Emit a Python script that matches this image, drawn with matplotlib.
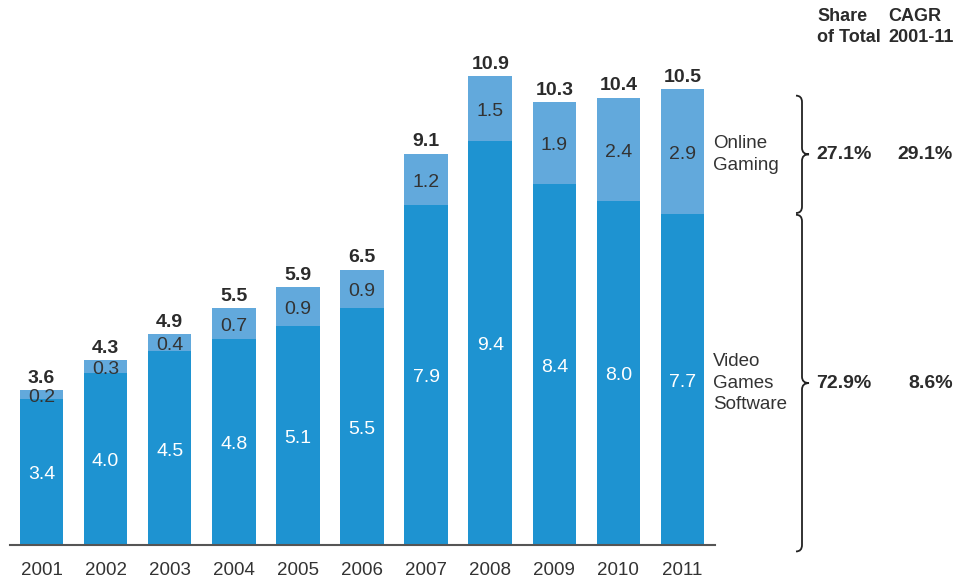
import matplotlib
matplotlib.use("Agg")
import matplotlib.pyplot as plt
import matplotlib.transforms as mtransforms
from matplotlib.path import Path
from matplotlib.patches import PathPatch

plt.rcParams['font.family'] = ['Liberation Sans', 'DejaVu Sans']

years = ["2001", "2002", "2003", "2004", "2005", "2006",
         "2007", "2008", "2009", "2010", "2011"]
software = [3.4, 4.0, 4.5, 4.8, 5.1, 5.5, 7.9, 9.4, 8.4, 8.0, 7.7]
online = [0.2, 0.3, 0.4, 0.7, 0.9, 0.9, 1.2, 1.5, 1.9, 2.4, 2.9]
totals = [3.6, 4.3, 4.9, 5.5, 5.9, 6.5, 9.1, 10.9, 10.3, 10.4, 10.5]

segments = ["Online\nGaming", "Video\nGames\nSoftware"]
share = ["27.1%", "72.9%"]
cagr = ["29.1%", "8.6%"]

dark = '#1e93d1'
light = '#62a9dc'
txt = '#2b2b2b'

fig = plt.figure(figsize=(9.61, 5.80), dpi=100)
ax = fig.add_axes([0, 0, 1, 1])
ax.set_xlim(-0.647, 14.344)
ax.set_ylim(-0.814, 12.674)
ax.axis('off')

# pixel overlay for annotations on the right
ov = fig.add_axes([0, 0, 1, 1], facecolor='none')
ov.set_xlim(0, 961)
ov.set_ylim(580, 0)
ov.axis('off')

x = list(range(len(years)))
w = 0.68
ax.bar(x, software, width=w, color=dark, zorder=2)
ax.bar(x, online, width=w, bottom=software, color=light, zorder=2)

for i in x:
    ax.annotate(f"{software[i]:.1f}", (i, software[i] / 2), xytext=(0, -2),
                textcoords='offset points', ha='center', va='center',
                color='white', fontsize=14, zorder=3)
    ax.annotate(f"{online[i]:.1f}", (i, software[i] + online[i] / 2),
                xytext=(0, -2), textcoords='offset points', ha='center',
                va='center', color='#333333', fontsize=14, zorder=3)
    ax.annotate(f"{totals[i]:.1f}", (i, software[i] + online[i]),
                xytext=(0, 2.5), textcoords='offset points', ha='center',
                va='bottom', fontsize=14, fontweight='bold', color=txt)
    ax.annotate(years[i], (i, 0), xytext=(0, -18.5), textcoords='offset points',
                ha='center', va='center', fontsize=13.5, color='#333333')

# baseline
ov.plot([10, 715], [545, 545], color='#555555', lw=1.5, zorder=4)

# curly braces: x in pixels, y in data units
trans = mtransforms.blended_transform_factory(ov.transData, ax.transData)


def brace(y_top, y_bot):
    x0, xm, xt = 796, 802, 809
    r = 0.15
    ym = (y_top + y_bot) / 2
    verts = [(x0, y_top), (xm, y_top), (xm, y_top - r),
             (xm, ym + r), (xm, ym), (xt, ym),
             (xm, ym), (xm, ym - r),
             (xm, y_bot + r), (xm, y_bot), (x0, y_bot)]
    codes = [Path.MOVETO, Path.CURVE3, Path.CURVE3,
             Path.LINETO, Path.CURVE3, Path.CURVE3,
             Path.CURVE3, Path.CURVE3,
             Path.LINETO, Path.CURVE3, Path.CURVE3]
    ax.add_patch(PathPatch(Path(verts, codes), transform=trans, fill=False,
                           lw=1.3, color='#222222', clip_on=False))
    return ym


last = len(years) - 1
top_mid = brace(totals[last] - 0.05, software[last] + 0.02)
bot_mid = brace(software[last] - 0.02, -0.15)

ax.text(713, top_mid, segments[0], transform=trans, ha='left', va='center',
        fontsize=13.5, color='#333333', linespacing=1.35)
ax.text(713, bot_mid, segments[1], transform=trans, ha='left', va='center',
        fontsize=13.5, color='#333333', linespacing=1.35)

for ym, s, c in [(top_mid, share[0], cagr[0]), (bot_mid, share[1], cagr[1])]:
    ax.text(816, ym, s, transform=trans, ha='left', va='center',
            fontsize=14, fontweight='bold', color=txt)
    ax.text(953, ym, c, transform=trans, ha='right', va='center',
            fontsize=14, fontweight='bold', color=txt)

ov.text(817, 27, "Share\nof Total", ha='left', va='center', fontsize=13,
        fontweight='bold', color=txt, linespacing=1.3)
ov.text(888, 27, "CAGR\n2001-11", ha='left', va='center', fontsize=13,
        fontweight='bold', color=txt, linespacing=1.3)

fig.savefig("out.png", dpi=100)
